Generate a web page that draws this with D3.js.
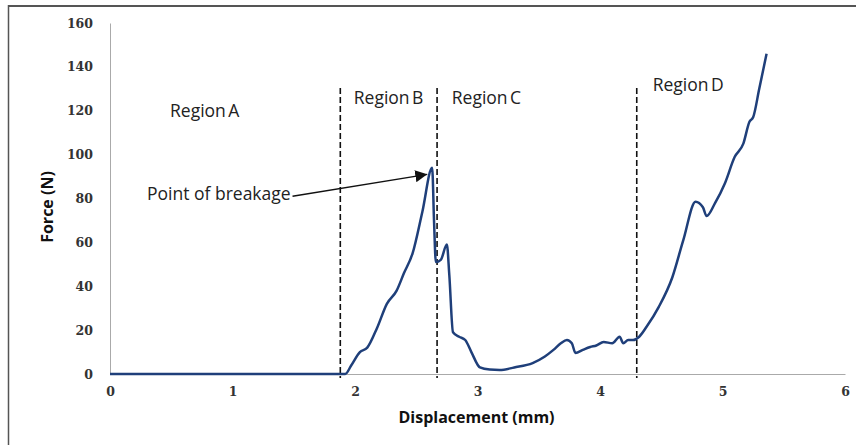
<!DOCTYPE html>
<html>
<head>
<script src="https://d3js.org/d3.v7.min.js"></script>
<style>
  body { margin: 0; background: #fff; }
  .tick text { font-family: "DejaVu Serif", serif; font-weight: bold; font-size: 12.5px; fill: #333; }
  .lbl { font-family: "Open Sans", sans-serif; font-size: 17.5px; fill: #222; }
  .reg { word-spacing: -2px; }
  .axt { font-family: "Open Sans", sans-serif; font-weight: bold; font-size: 16px; fill: #111; }
</style>
</head>
<body>
<script>
// data
var disp = [0, 0.5, 1.0, 1.5, 1.92, 1.97, 2.04, 2.10, 2.18, 2.26, 2.34, 2.40, 2.47, 2.55, 2.63, 2.645, 2.66, 2.70, 2.75, 2.77, 2.80, 2.85, 2.90, 2.95, 3.02, 3.10, 3.18, 3.30, 3.45, 3.55, 3.62, 3.68, 3.73, 3.77, 3.80, 3.86, 3.92, 3.97, 4.03, 4.10, 4.16, 4.19, 4.23, 4.27, 4.32, 4.38, 4.48, 4.59, 4.68, 4.78, 4.84, 4.87, 4.94, 5.02, 5.10, 5.17, 5.22, 5.25, 5.30, 5.36];
var force = [0, 0, 0, 0, 0, 4, 10, 12, 21, 32, 38, 46, 55, 74, 94, 70, 51, 52, 59, 45, 19, 17, 15.5, 10, 3, 2, 1.8, 3, 5, 8, 11, 14, 15.5, 14, 9.6, 11, 12.3, 13, 14.6, 14, 17, 14, 15.5, 15.5, 17, 21.5, 30.6, 44, 61, 78.5, 76, 72, 78, 87, 99, 105, 115, 117, 130, 146];

var xTicks = [0, 1, 2, 3, 4, 5, 6];
var yTicks = [0, 20, 40, 60, 80, 100, 120, 140, 160];

var regionX = [1.88, 2.67, 4.3];
var regionNames = ["Region A", "Region B", "Region C", "Region D"];
var regionLabelX = [0.49, 1.99, 2.79, 4.43];
var regionLabelF = [117, 123, 123, 129];

var W = 856, H = 445;
var x = d3.scaleLinear().domain([0, 6]).range([110, 845]);
var y = d3.scaleLinear().domain([0, 160]).range([374, 23]);

var svg = d3.select("body").append("svg").attr("width", W).attr("height", H);

svg.append("defs").append("marker")
  .attr("id", "arr").attr("viewBox", "0 0 10 10").attr("refX", 10).attr("refY", 5)
  .attr("markerWidth", 8).attr("markerHeight", 8).attr("orient", "auto")
  .append("path").attr("d", "M0,0L10,5L0,10z").attr("fill", "#111");

// outer frame (top and left only)
svg.append("line").attr("x1", 8).attr("x2", W).attr("y1", 6).attr("y2", 6).attr("stroke", "#555").attr("stroke-width", 2);
svg.append("line").attr("x1", 8.5).attr("x2", 8.5).attr("y1", 5).attr("y2", H).attr("stroke", "#555").attr("stroke-width", 1.5);

// axes
var gx = svg.append("g").attr("transform", "translate(0," + y(0) + ")")
  .call(d3.axisBottom(x).tickValues(xTicks).tickSize(0).tickPadding(13).tickFormat(d3.format("d")));
gx.select(".domain").attr("stroke", "#aaa");
var gy = svg.append("g").attr("transform", "translate(" + x(0) + ",0)")
  .call(d3.axisLeft(y).tickValues(yTicks).tickSize(0).tickPadding(17));
gy.select(".domain").attr("stroke", "#aaa");

svg.append("text").attr("class", "axt").attr("x", (x(0) + x(6)) / 2 - 1).attr("y", 423)
  .attr("text-anchor", "middle").text("Displacement (mm)");
svg.append("text").attr("class", "axt").attr("transform", "translate(53,207) rotate(-90)")
  .attr("text-anchor", "middle").text("Force (N)");

// region boundaries
svg.selectAll(".bound").data(regionX).enter().append("line")
  .attr("x1", function(d) { return x(d); }).attr("x2", function(d) { return x(d); })
  .attr("y1", 88).attr("y2", y(0) + 4)
  .attr("stroke", "#111").attr("stroke-width", 1.6).attr("stroke-dasharray", "6,3");

// curve
var pts = disp.map(function(d, i) { return [d, force[i]]; });
svg.append("path").datum(pts)
  .attr("fill", "none").attr("stroke", "#1f3f7a").attr("stroke-width", 2.5)
  .attr("d", d3.line().x(function(d) { return x(d[0]); }).y(function(d) { return y(d[1]); }).curve(d3.curveMonotoneX));

// region labels
svg.selectAll(".rl").data(regionNames).enter().append("text")
  .attr("class", "lbl reg")
  .attr("x", function(d, i) { return x(regionLabelX[i]); })
  .attr("y", function(d, i) { return y(regionLabelF[i]); })
  .text(function(d) { return d; });

// annotation
svg.append("text").attr("class", "lbl").attr("x", 147).attr("y", 200).text("Point of breakage");
svg.append("line").attr("x1", x(1.49)).attr("y1", y(81)).attr("x2", x(2.59)).attr("y2", y(91))
  .attr("stroke", "#111").attr("stroke-width", 1.5).attr("marker-end", "url(#arr)");
</script>
</body>
</html>
